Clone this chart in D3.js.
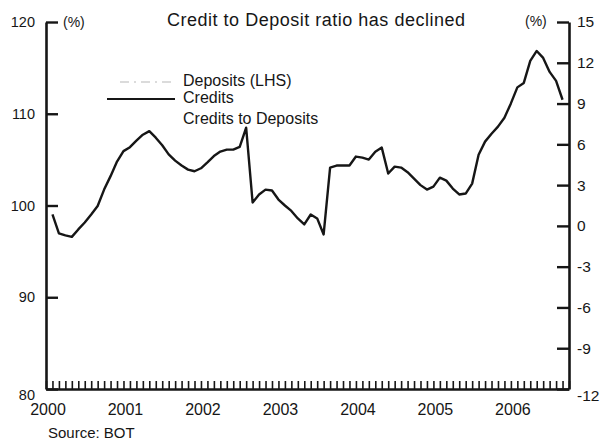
<!DOCTYPE html>
<html>
<head>
<meta charset="utf-8">
<script src="https://cdn.jsdelivr.net/npm/d3@7"></script>
<style>
  html, body { margin: 0; padding: 0; background: #fff; }
  svg { display: block; font-family: "Liberation Sans", Arial, Helvetica, sans-serif; }
</style>
</head>
<body>
<svg id="chart" width="603" height="443"></svg>
<script>
// Credit growth (% y/y, right axis), monthly from Jan 2000 to Aug 2006
const creditGrowth = [
  0.84, -0.55, -0.70, -0.81, -0.26, 0.25, 0.84, 1.46, 2.67, 3.66, 4.73, 5.50,
  5.79, 6.27, 6.71, 6.97, 6.49, 5.93, 5.26, 4.80, 4.44, 4.14, 4.02, 4.24,
  4.68, 5.14, 5.47, 5.61, 5.61, 5.81, 7.22, 1.72, 2.31, 2.67, 2.60, 1.94,
  1.50, 1.10, 0.55, 0.11, 0.84, 0.55, -0.63, 4.29, 4.44, 4.44, 4.44, 5.10,
  5.02, 4.88, 5.46, 5.76, 3.85, 4.36, 4.29, 3.95, 3.48, 3.00, 2.67, 2.89,
  3.55, 3.33, 2.75, 2.31, 2.38, 3.11, 5.24, 6.20, 6.78, 7.30, 7.96, 9.01,
  10.19, 10.52, 12.14, 12.87, 12.36, 11.33, 10.67, 9.28
];
const startYear = 2000;
const yearLabels = ["2000", "2001", "2002", "2003", "2004", "2005", "2006"];
const leftTicks = [80, 90, 100, 110, 120];
const rightTicks = [-12, -9, -6, -3, 0, 3, 6, 9, 12, 15];
const legendLabels = ["Deposits (LHS)", "Credits", "Credits to Deposits"];
const titleText = "Credit to Deposit ratio has declined";
const sourceText = "Source: BOT";

const svg = d3.select("#chart");
const ink = "#161616";

const x = d3.scaleLinear().domain([2000, 2006.75]).range([46, 569]);
const yL = d3.scaleLinear().domain([80, 120]).range([389, 22]);
const yR = d3.scaleLinear().domain([-12, 15]).range([389, 22]);

// points sit at the end of each month
const series = creditGrowth.map((v, i) => ({ t: startYear + (i + 1) / 12, v }));

// credit growth line
svg.append("path")
  .datum(series)
  .attr("fill", "none")
  .attr("stroke", ink)
  .attr("stroke-width", 2.4)
  .attr("stroke-linejoin", "round")
  .attr("d", d3.line().x(d => x(d.t)).y(d => yR(d.v)));

// left axis (ticks point inward)
const gL = svg.append("g").attr("transform", `translate(${x.range()[0]},0)`)
  .call(d3.axisLeft(yL).tickValues(leftTicks).tickSize(-12).tickSizeOuter(0)
    .tickPadding(11).tickFormat(d => String(d)));
// right axis
const gR = svg.append("g").attr("transform", `translate(${x.range()[1]},0)`)
  .call(d3.axisRight(yR).tickValues(rightTicks).tickSize(-12).tickSizeOuter(0)
    .tickPadding(8).tickFormat(d => String(d)));
// bottom axis: monthly ticks pointing up
const months = d3.range(0, 82).map(m => 2000 + m / 12).filter(t => t <= 2006.76);
const gB = svg.append("g").attr("transform", `translate(0,${yL.range()[0]})`)
  .call(d3.axisBottom(x).tickValues(months).tickSize(-8).tickSizeOuter(0).tickFormat(""));

[gL, gR, gB].forEach(g => {
  g.select(".domain").attr("stroke", ink).attr("stroke-width", 2.6);
  g.selectAll(".tick line").attr("stroke", ink);
});
gL.selectAll(".tick line").attr("stroke-width", 2.4);
gR.selectAll(".tick line").attr("stroke-width", 2.4);
gB.selectAll(".tick line").attr("stroke-width", 1.6);

gL.selectAll(".tick text")
  .attr("fill", ink).attr("font-size", 14.5).attr("font-family", "Liberation Sans, Arial, sans-serif")
  .attr("dy", d => d === 80 ? "0.75em" : "0.32em");
gR.selectAll(".tick text")
  .attr("fill", ink).attr("font-size", 15.5).attr("font-family", "Liberation Sans, Arial, sans-serif")
  .attr("dy", d => d === -12 ? "0.75em" : "0.32em");

// year labels
svg.append("g").selectAll("text")
  .data(yearLabels)
  .join("text")
  .attr("x", d => x(+d) + 2)
  .attr("y", 415)
  .attr("text-anchor", "middle")
  .attr("font-size", 16)
  .attr("fill", ink)
  .text(d => d);

// axis unit labels
svg.append("text").attr("x", 63).attr("y", 27).attr("font-size", 14).attr("fill", ink).text("(%)");
svg.append("text").attr("x", 525).attr("y", 26).attr("font-size", 14).attr("fill", ink).text("(%)");

// title
svg.append("text")
  .attr("x", 167).attr("y", 26)
  .attr("font-size", 18)
  .attr("textLength", 298).attr("lengthAdjust", "spacing")
  .attr("fill", ink)
  .text(titleText);

// legend
const legend = svg.append("g");
legend.append("line")
  .attr("x1", 120).attr("x2", 173).attr("y1", 82).attr("y2", 82)
  .attr("stroke", "#b8b8b8").attr("stroke-width", 1.2).attr("stroke-dasharray", "9,5,2,5");
legend.append("line")
  .attr("x1", 107).attr("x2", 175).attr("y1", 99).attr("y2", 99)
  .attr("stroke", ink).attr("stroke-width", 2);
legend.selectAll("text.lab")
  .data(legendLabels)
  .join("text")
  .attr("class", "lab")
  .attr("x", 183)
  .attr("y", (d, i) => [86, 103, 124][i])
  .attr("font-size", 16)
  .attr("fill", ink)
  .text(d => d);

// source
svg.append("text").attr("x", 48).attr("y", 438).attr("font-size", 15).attr("fill", ink).text(sourceText);
</script>
</body>
</html>
